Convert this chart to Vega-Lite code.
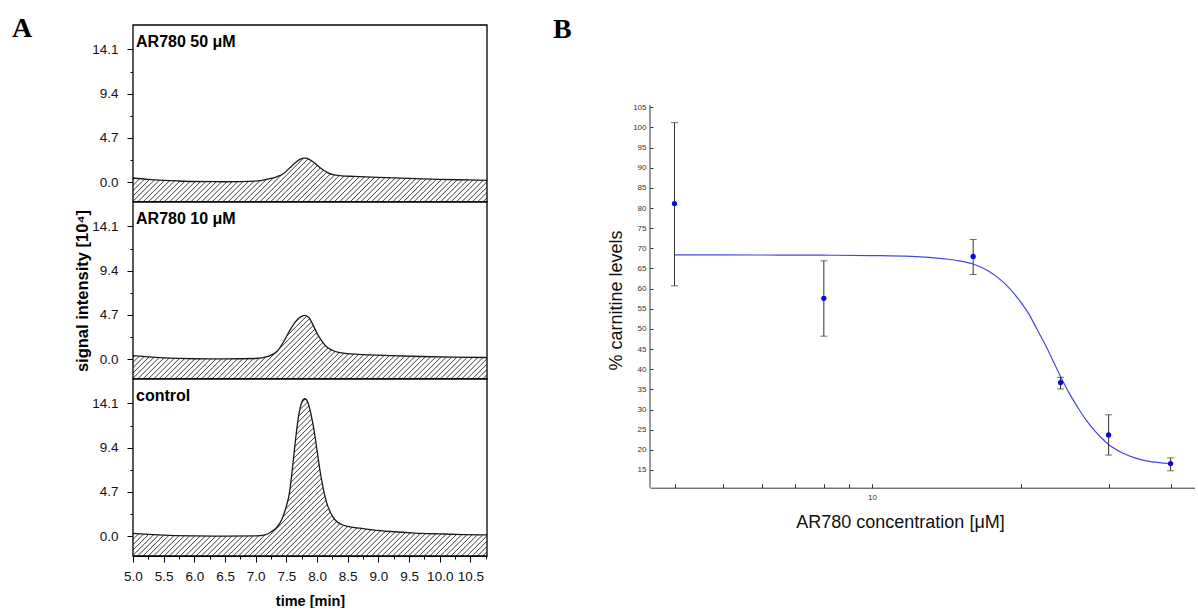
{
"$schema":"https://vega.github.io/schema/vega-lite/v6.json",
"padding":{"left":12,"top":14,"right":0,"bottom":0},
"background":"white",
"config":{"view":{"stroke":null},"axis":{"grid":false,"labelOverlap":false},"font":"Liberation Sans"},
"datasets":{
"chrom":[
{"p":1,"label":"AR780 50 μM"},{"p":2,"label":"AR780 10 μM"},{"p":3,"label":"control"},
{"p":1,"t":5.0,"v":0.45},{"p":1,"t":5.25,"v":0.3},{"p":1,"t":5.5,"v":0.2},{"p":1,"t":5.75,"v":0.13},{"p":1,"t":6.0,"v":0.08},{"p":1,"t":6.5,"v":0.05},{"p":1,"t":7.0,"v":0.12},{"p":1,"t":7.2,"v":0.33},{"p":1,"t":7.35,"v":0.6},{"p":1,"t":7.45,"v":0.9},{"p":1,"t":7.55,"v":1.5},{"p":1,"t":7.65,"v":2.1},{"p":1,"t":7.72,"v":2.42},{"p":1,"t":7.8,"v":2.55},{"p":1,"t":7.88,"v":2.4},{"p":1,"t":7.95,"v":2.1},{"p":1,"t":8.02,"v":1.7},{"p":1,"t":8.1,"v":1.3},{"p":1,"t":8.18,"v":1.0},{"p":1,"t":8.26,"v":0.8},{"p":1,"t":8.4,"v":0.68},{"p":1,"t":8.6,"v":0.62},{"p":1,"t":9.0,"v":0.52},{"p":1,"t":9.5,"v":0.4},{"p":1,"t":10.0,"v":0.3},{"p":1,"t":10.5,"v":0.24},{"p":1,"t":10.77,"v":0.2},
{"p":2,"t":5.0,"v":0.38},{"p":2,"t":5.25,"v":0.25},{"p":2,"t":5.5,"v":0.15},{"p":2,"t":6.0,"v":0.05},{"p":2,"t":6.5,"v":0.03},{"p":2,"t":7.0,"v":0.08},{"p":2,"t":7.2,"v":0.3},{"p":2,"t":7.35,"v":0.85},{"p":2,"t":7.45,"v":1.8},{"p":2,"t":7.55,"v":3.0},{"p":2,"t":7.65,"v":4.0},{"p":2,"t":7.72,"v":4.45},{"p":2,"t":7.8,"v":4.65},{"p":2,"t":7.87,"v":4.4},{"p":2,"t":7.93,"v":3.7},{"p":2,"t":8.0,"v":2.75},{"p":2,"t":8.07,"v":2.0},{"p":2,"t":8.15,"v":1.35},{"p":2,"t":8.25,"v":0.95},{"p":2,"t":8.35,"v":0.72},{"p":2,"t":8.5,"v":0.6},{"p":2,"t":8.85,"v":0.47},{"p":2,"t":9.2,"v":0.38},{"p":2,"t":9.7,"v":0.29},{"p":2,"t":10.2,"v":0.22},{"p":2,"t":10.77,"v":0.18},
{"p":3,"t":5.0,"v":0.3},{"p":3,"t":5.25,"v":0.2},{"p":3,"t":5.5,"v":0.12},{"p":3,"t":6.0,"v":0.04},{"p":3,"t":6.5,"v":0.01},{"p":3,"t":7.0,"v":0.03},{"p":3,"t":7.15,"v":0.15},{"p":3,"t":7.25,"v":0.45},{"p":3,"t":7.35,"v":1.0},{"p":3,"t":7.42,"v":1.7},{"p":3,"t":7.5,"v":3.2},{"p":3,"t":7.55,"v":4.6},{"p":3,"t":7.6,"v":7.3},{"p":3,"t":7.65,"v":10.3},{"p":3,"t":7.7,"v":12.8},{"p":3,"t":7.75,"v":14.2},{"p":3,"t":7.8,"v":14.6},{"p":3,"t":7.85,"v":14.2},{"p":3,"t":7.9,"v":13.0},{"p":3,"t":7.95,"v":11.3},{"p":3,"t":8.0,"v":9.1},{"p":3,"t":8.05,"v":6.9},{"p":3,"t":8.1,"v":5.1},{"p":3,"t":8.15,"v":3.7},{"p":3,"t":8.22,"v":2.5},{"p":3,"t":8.3,"v":1.7},{"p":3,"t":8.4,"v":1.25},{"p":3,"t":8.5,"v":1.05},{"p":3,"t":8.7,"v":0.85},{"p":3,"t":8.9,"v":0.68},{"p":3,"t":9.2,"v":0.5},{"p":3,"t":9.6,"v":0.34},{"p":3,"t":10.0,"v":0.25},{"p":3,"t":10.4,"v":0.18},{"p":3,"t":10.77,"v":0.14}
],
"points":[
{"c":4,"m":81.1,"lo":60.7,"hi":101.2},{"c":8,"m":57.6,"lo":48.2,"hi":66.9},{"c":16,"m":68.0,"lo":63.5,"hi":72.2},{"c":24,"m":36.7,"lo":35.1,"hi":38.0},{"c":30,"m":23.7,"lo":18.7,"hi":28.7},{"c":40,"m":16.6,"lo":14.8,"hi":18.0}
],
"fit":[
{"c":4,"f":68.4},{"c":6,"f":68.35},{"c":8,"f":68.3},{"c":10,"f":68.2},{"c":12,"f":68.0},{"c":14,"f":67.4},{"c":15,"f":66.9},{"c":16,"f":66.1},{"c":17.2,"f":64.3},{"c":18,"f":62.6},{"c":18.9,"f":60.2},{"c":19.8,"f":57.2},{"c":20.7,"f":53.8},{"c":21.5,"f":50.0},{"c":22.4,"f":45.9},{"c":23.2,"f":42.0},{"c":24,"f":38.2},{"c":25,"f":34.0},{"c":26.1,"f":30.2},{"c":27.1,"f":27.2},{"c":28.2,"f":24.6},{"c":29,"f":23.0},{"c":30,"f":21.3},{"c":32,"f":19.2},{"c":33.9,"f":18.0},{"c":36,"f":17.2},{"c":40,"f":16.6}
],
"yaxis":[{"lo":10.6,"hi":105.6}]
},
"spacing":63,
"hconcat":[
{
"data":{"name":"chrom"},
"title":{"text":"A","anchor":"start","frame":"group","dx":-121,"dy":40.5,"offset":0,"baseline":"alphabetic","font":"Liberation Serif","fontSize":28,"fontWeight":"bold","color":"#000"},
"bounds":"flush",
"spacing":0,
"facet":{"row":{"field":"p","type":"ordinal","header":{"labels":false,"title":"signal intensity [10⁴]","titleFont":"Liberation Sans","titleFontSize":16.5,"titleFontWeight":"bold","titleColor":"#000","titlePadding":-10}}},
"spec":{
"width":354,"height":177,
"layer":[
{"transform":[{"filter":"isValid(datum.label)"}],
"mark":{"type":"rect","fill":{"gradient":"linear","x1":0,"y1":0,"x2":1.2,"y2":0.6,"stops":[
{"offset":0,"color":"#fff"},{"offset":0.002,"color":"#444"},{"offset":0.004,"color":"#fff"},
{"offset":0.01,"color":"#fff"},{"offset":0.012,"color":"#444"},{"offset":0.014,"color":"#fff"},
{"offset":0.02,"color":"#fff"},{"offset":0.022,"color":"#444"},{"offset":0.024,"color":"#fff"},
{"offset":0.03,"color":"#fff"},{"offset":0.032,"color":"#444"},{"offset":0.034,"color":"#fff"},
{"offset":0.04,"color":"#fff"},{"offset":0.042,"color":"#444"},{"offset":0.044,"color":"#fff"},
{"offset":0.05,"color":"#fff"},{"offset":0.052,"color":"#444"},{"offset":0.054,"color":"#fff"},
{"offset":0.06,"color":"#fff"},{"offset":0.062,"color":"#444"},{"offset":0.064,"color":"#fff"},
{"offset":0.07,"color":"#fff"},{"offset":0.072,"color":"#444"},{"offset":0.074,"color":"#fff"},
{"offset":0.08,"color":"#fff"},{"offset":0.082,"color":"#444"},{"offset":0.084,"color":"#fff"},
{"offset":0.09,"color":"#fff"},{"offset":0.092,"color":"#444"},{"offset":0.094,"color":"#fff"},
{"offset":0.1,"color":"#fff"},{"offset":0.102,"color":"#444"},{"offset":0.104,"color":"#fff"},
{"offset":0.11,"color":"#fff"},{"offset":0.112,"color":"#444"},{"offset":0.114,"color":"#fff"},
{"offset":0.12,"color":"#fff"},{"offset":0.122,"color":"#444"},{"offset":0.124,"color":"#fff"},
{"offset":0.13,"color":"#fff"},{"offset":0.132,"color":"#444"},{"offset":0.134,"color":"#fff"},
{"offset":0.14,"color":"#fff"},{"offset":0.142,"color":"#444"},{"offset":0.144,"color":"#fff"},
{"offset":0.15,"color":"#fff"},{"offset":0.152,"color":"#444"},{"offset":0.154,"color":"#fff"},
{"offset":0.16,"color":"#fff"},{"offset":0.162,"color":"#444"},{"offset":0.164,"color":"#fff"},
{"offset":0.17,"color":"#fff"},{"offset":0.172,"color":"#444"},{"offset":0.174,"color":"#fff"},
{"offset":0.18,"color":"#fff"},{"offset":0.182,"color":"#444"},{"offset":0.184,"color":"#fff"},
{"offset":0.19,"color":"#fff"},{"offset":0.192,"color":"#444"},{"offset":0.194,"color":"#fff"},
{"offset":0.2,"color":"#fff"},{"offset":0.202,"color":"#444"},{"offset":0.204,"color":"#fff"},
{"offset":0.21,"color":"#fff"},{"offset":0.212,"color":"#444"},{"offset":0.214,"color":"#fff"},
{"offset":0.22,"color":"#fff"},{"offset":0.222,"color":"#444"},{"offset":0.224,"color":"#fff"},
{"offset":0.23,"color":"#fff"},{"offset":0.232,"color":"#444"},{"offset":0.234,"color":"#fff"},
{"offset":0.24,"color":"#fff"},{"offset":0.242,"color":"#444"},{"offset":0.244,"color":"#fff"},
{"offset":0.25,"color":"#fff"},{"offset":0.252,"color":"#444"},{"offset":0.254,"color":"#fff"},
{"offset":0.26,"color":"#fff"},{"offset":0.262,"color":"#444"},{"offset":0.264,"color":"#fff"},
{"offset":0.27,"color":"#fff"},{"offset":0.272,"color":"#444"},{"offset":0.274,"color":"#fff"},
{"offset":0.28,"color":"#fff"},{"offset":0.282,"color":"#444"},{"offset":0.284,"color":"#fff"},
{"offset":0.29,"color":"#fff"},{"offset":0.292,"color":"#444"},{"offset":0.294,"color":"#fff"},
{"offset":0.3,"color":"#fff"},{"offset":0.302,"color":"#444"},{"offset":0.304,"color":"#fff"},
{"offset":0.31,"color":"#fff"},{"offset":0.312,"color":"#444"},{"offset":0.314,"color":"#fff"},
{"offset":0.32,"color":"#fff"},{"offset":0.322,"color":"#444"},{"offset":0.324,"color":"#fff"},
{"offset":0.33,"color":"#fff"},{"offset":0.332,"color":"#444"},{"offset":0.334,"color":"#fff"},
{"offset":0.34,"color":"#fff"},{"offset":0.342,"color":"#444"},{"offset":0.344,"color":"#fff"},
{"offset":0.35,"color":"#fff"},{"offset":0.352,"color":"#444"},{"offset":0.354,"color":"#fff"},
{"offset":0.36,"color":"#fff"},{"offset":0.362,"color":"#444"},{"offset":0.364,"color":"#fff"},
{"offset":0.37,"color":"#fff"},{"offset":0.372,"color":"#444"},{"offset":0.374,"color":"#fff"},
{"offset":0.38,"color":"#fff"},{"offset":0.382,"color":"#444"},{"offset":0.384,"color":"#fff"},
{"offset":0.39,"color":"#fff"},{"offset":0.392,"color":"#444"},{"offset":0.394,"color":"#fff"},
{"offset":0.4,"color":"#fff"},{"offset":0.402,"color":"#444"},{"offset":0.404,"color":"#fff"},
{"offset":0.41,"color":"#fff"},{"offset":0.412,"color":"#444"},{"offset":0.414,"color":"#fff"},
{"offset":0.42,"color":"#fff"},{"offset":0.422,"color":"#444"},{"offset":0.424,"color":"#fff"},
{"offset":0.43,"color":"#fff"},{"offset":0.432,"color":"#444"},{"offset":0.434,"color":"#fff"},
{"offset":0.44,"color":"#fff"},{"offset":0.442,"color":"#444"},{"offset":0.444,"color":"#fff"},
{"offset":0.45,"color":"#fff"},{"offset":0.452,"color":"#444"},{"offset":0.454,"color":"#fff"},
{"offset":0.46,"color":"#fff"},{"offset":0.462,"color":"#444"},{"offset":0.464,"color":"#fff"},
{"offset":0.47,"color":"#fff"},{"offset":0.472,"color":"#444"},{"offset":0.474,"color":"#fff"},
{"offset":0.48,"color":"#fff"},{"offset":0.482,"color":"#444"},{"offset":0.484,"color":"#fff"},
{"offset":0.49,"color":"#fff"},{"offset":0.492,"color":"#444"},{"offset":0.494,"color":"#fff"},
{"offset":0.5,"color":"#fff"},{"offset":0.502,"color":"#444"},{"offset":0.504,"color":"#fff"},
{"offset":0.51,"color":"#fff"},{"offset":0.512,"color":"#444"},{"offset":0.514,"color":"#fff"},
{"offset":0.52,"color":"#fff"},{"offset":0.522,"color":"#444"},{"offset":0.524,"color":"#fff"},
{"offset":0.53,"color":"#fff"},{"offset":0.532,"color":"#444"},{"offset":0.534,"color":"#fff"},
{"offset":0.54,"color":"#fff"},{"offset":0.542,"color":"#444"},{"offset":0.544,"color":"#fff"},
{"offset":0.55,"color":"#fff"},{"offset":0.552,"color":"#444"},{"offset":0.554,"color":"#fff"},
{"offset":0.56,"color":"#fff"},{"offset":0.562,"color":"#444"},{"offset":0.564,"color":"#fff"},
{"offset":0.57,"color":"#fff"},{"offset":0.572,"color":"#444"},{"offset":0.574,"color":"#fff"},
{"offset":0.58,"color":"#fff"},{"offset":0.582,"color":"#444"},{"offset":0.584,"color":"#fff"},
{"offset":0.59,"color":"#fff"},{"offset":0.592,"color":"#444"},{"offset":0.594,"color":"#fff"},
{"offset":0.6,"color":"#fff"},{"offset":0.602,"color":"#444"},{"offset":0.604,"color":"#fff"},
{"offset":0.61,"color":"#fff"},{"offset":0.612,"color":"#444"},{"offset":0.614,"color":"#fff"},
{"offset":0.62,"color":"#fff"},{"offset":0.622,"color":"#444"},{"offset":0.624,"color":"#fff"},
{"offset":0.63,"color":"#fff"},{"offset":0.632,"color":"#444"},{"offset":0.634,"color":"#fff"},
{"offset":0.64,"color":"#fff"},{"offset":0.642,"color":"#444"},{"offset":0.644,"color":"#fff"},
{"offset":0.65,"color":"#fff"},{"offset":0.652,"color":"#444"},{"offset":0.654,"color":"#fff"},
{"offset":0.66,"color":"#fff"},{"offset":0.662,"color":"#444"},{"offset":0.664,"color":"#fff"},
{"offset":0.67,"color":"#fff"},{"offset":0.672,"color":"#444"},{"offset":0.674,"color":"#fff"},
{"offset":0.68,"color":"#fff"},{"offset":0.682,"color":"#444"},{"offset":0.684,"color":"#fff"},
{"offset":0.69,"color":"#fff"},{"offset":0.692,"color":"#444"},{"offset":0.694,"color":"#fff"},
{"offset":0.7,"color":"#fff"},{"offset":0.702,"color":"#444"},{"offset":0.704,"color":"#fff"},
{"offset":0.71,"color":"#fff"},{"offset":0.712,"color":"#444"},{"offset":0.714,"color":"#fff"},
{"offset":0.72,"color":"#fff"},{"offset":0.722,"color":"#444"},{"offset":0.724,"color":"#fff"},
{"offset":0.73,"color":"#fff"},{"offset":0.732,"color":"#444"},{"offset":0.734,"color":"#fff"},
{"offset":0.74,"color":"#fff"},{"offset":0.742,"color":"#444"},{"offset":0.744,"color":"#fff"},
{"offset":0.75,"color":"#fff"},{"offset":0.752,"color":"#444"},{"offset":0.754,"color":"#fff"},
{"offset":0.76,"color":"#fff"},{"offset":0.762,"color":"#444"},{"offset":0.764,"color":"#fff"},
{"offset":0.77,"color":"#fff"},{"offset":0.772,"color":"#444"},{"offset":0.774,"color":"#fff"},
{"offset":0.78,"color":"#fff"},{"offset":0.782,"color":"#444"},{"offset":0.784,"color":"#fff"},
{"offset":0.79,"color":"#fff"},{"offset":0.792,"color":"#444"},{"offset":0.794,"color":"#fff"},
{"offset":0.8,"color":"#fff"},{"offset":0.802,"color":"#444"},{"offset":0.804,"color":"#fff"},
{"offset":0.81,"color":"#fff"},{"offset":0.812,"color":"#444"},{"offset":0.814,"color":"#fff"},
{"offset":0.82,"color":"#fff"},{"offset":0.822,"color":"#444"},{"offset":0.824,"color":"#fff"},
{"offset":0.83,"color":"#fff"},{"offset":0.832,"color":"#444"},{"offset":0.834,"color":"#fff"},
{"offset":0.84,"color":"#fff"},{"offset":0.842,"color":"#444"},{"offset":0.844,"color":"#fff"},
{"offset":0.85,"color":"#fff"},{"offset":0.852,"color":"#444"},{"offset":0.854,"color":"#fff"},
{"offset":0.86,"color":"#fff"},{"offset":0.862,"color":"#444"},{"offset":0.864,"color":"#fff"},
{"offset":0.87,"color":"#fff"},{"offset":0.872,"color":"#444"},{"offset":0.874,"color":"#fff"},
{"offset":0.88,"color":"#fff"},{"offset":0.882,"color":"#444"},{"offset":0.884,"color":"#fff"},
{"offset":0.89,"color":"#fff"},{"offset":0.892,"color":"#444"},{"offset":0.894,"color":"#fff"},
{"offset":0.9,"color":"#fff"},{"offset":0.902,"color":"#444"},{"offset":0.904,"color":"#fff"},
{"offset":0.91,"color":"#fff"},{"offset":0.912,"color":"#444"},{"offset":0.914,"color":"#fff"},
{"offset":0.92,"color":"#fff"},{"offset":0.922,"color":"#444"},{"offset":0.924,"color":"#fff"},
{"offset":0.93,"color":"#fff"},{"offset":0.932,"color":"#444"},{"offset":0.934,"color":"#fff"},
{"offset":0.94,"color":"#fff"},{"offset":0.942,"color":"#444"},{"offset":0.944,"color":"#fff"},
{"offset":0.95,"color":"#fff"},{"offset":0.952,"color":"#444"},{"offset":0.954,"color":"#fff"},
{"offset":0.96,"color":"#fff"},{"offset":0.962,"color":"#444"},{"offset":0.964,"color":"#fff"},
{"offset":0.97,"color":"#fff"},{"offset":0.972,"color":"#444"},{"offset":0.974,"color":"#fff"},
{"offset":0.98,"color":"#fff"},{"offset":0.982,"color":"#444"},{"offset":0.984,"color":"#fff"},
{"offset":0.99,"color":"#fff"},{"offset":0.992,"color":"#444"},{"offset":0.994,"color":"#fff"},
{"offset":1,"color":"#fff"}
]}},
"encoding":{
"x":{"datum":5,"type":"quantitative","title":"time [min]","scale":{"domain":[5,10.77],"nice":false,"zero":false},
"axis":{"values":[5,5.25,5.5,5.75,6,6.25,6.5,6.75,7,7.25,7.5,7.75,8,8.25,8.5,8.75,9,9.25,9.5,9.75,10,10.25,10.5,10.75],"tickCount":100,
"labelExpr":"abs(datum.value*2-round(datum.value*2))<0.01 ? format(datum.value,'.1f') : ''",
"tickSize":{"condition":{"test":"abs(datum.value*2-round(datum.value*2))<0.01","value":6},"value":3},
"labelPadding":7,"labelFont":"Liberation Sans","labelFontSize":13.5,"labelColor":"#111","labelFlush":false,"labelOverlap":false,
"tickColor":"#000","domainColor":"#000","tickWidth":1,
"titleFont":"Liberation Sans","titleFontSize":14.5,"titleFontWeight":"bold","titleColor":"#000","titlePadding":12}},
"x2":{"datum":10.77},
"y":{"datum":-2.1,"type":"quantitative","title":null,"scale":{"domain":[-2.1,16.7],"nice":false,"zero":false},
"axis":{"values":[0,2.35,4.7,7.05,9.4,11.75,14.1],"tickCount":100,
"labelExpr":"indexof([0,4.7,9.4,14.1],datum.value)>=0 ? format(datum.value,'.1f') : ''",
"tickSize":{"condition":{"test":"indexof([0,4.7,9.4,14.1],datum.value)>=0","value":6},"value":3},
"labelPadding":9,"labelFont":"Liberation Sans","labelFontSize":13.5,"labelColor":"#111","labelOverlap":false,
"tickColor":"#000","domainColor":"#000"}},
"y2":{"datum":16.7}}},
{"transform":[{"filter":"isValid(datum.t)"}],
"mark":{"type":"area","interpolate":"monotone","fill":"#fff","opacity":1},
"encoding":{"x":{"field":"t","type":"quantitative","title":"time [min]"},"y":{"field":"v","type":"quantitative","title":null},"y2":{"datum":16.7}}},
{"transform":[{"filter":"isValid(datum.t)"}],
"mark":{"type":"line","interpolate":"monotone","color":"#1a1a1a","strokeWidth":1.3},
"encoding":{"x":{"field":"t","type":"quantitative","title":"time [min]"},"y":{"field":"v","type":"quantitative","title":null}}},
{"transform":[{"filter":"isValid(datum.label)"}],
"mark":{"type":"rect","filled":false,"stroke":"#000","strokeWidth":1.3},
"encoding":{"x":{"datum":5,"type":"quantitative","title":"time [min]"},"x2":{"datum":10.77},"y":{"datum":-2.1,"type":"quantitative","title":null},"y2":{"datum":16.7}}},
{"transform":[{"filter":"isValid(datum.label)"}],
"mark":{"type":"text","align":"left","baseline":"alphabetic","font":"Liberation Sans","fontSize":16,"fontWeight":"bold","color":"#000"},
"encoding":{"x":{"datum":5.05,"type":"quantitative","title":"time [min]"},"y":{"datum":14.35,"type":"quantitative","title":null},"text":{"field":"label"}}}
]
}
},
{
"width":545,"height":462.7,
"title":{"text":"B","anchor":"start","frame":"group","dx":-97,"dy":40.5,"offset":0,"baseline":"alphabetic","font":"Liberation Serif","fontSize":28,"fontWeight":"bold","color":"#000"},
"layer":[
{"data":{"name":"fit"},
"mark":{"type":"line","interpolate":"monotone","color":"#4646de","strokeWidth":1.2},
"encoding":{
"x":{"field":"c","type":"quantitative","title":"AR780 concentration [μM]","scale":{"type":"log","domain":[3.57,44.8],"nice":false},
"axis":{"values":[4,5,6,7,8,9,10,20,30,40],"tickCount":100,"labelExpr":"datum.value==10 ? '10' : ''","labelFont":"Liberation Sans","labelFontSize":8,"labelColor":"#333","labelOverlap":false,"labelFlush":false,
"tickSize":-4,"labelPadding":10,"tickColor":"#333","domainColor":"#333",
"titleFont":"Liberation Sans","titleFontSize":18,"titleFontWeight":"normal","titleColor":"#111","titlePadding":12,"titleX":250}},
"y":{"field":"f","type":"quantitative","title":"% carnitine levels","scale":{"domain":[10.6,125.42],"nice":false,"zero":false},
"axis":{"values":[15,20,25,30,35,40,45,50,55,60,65,70,75,80,85,90,95,100,105],"tickCount":100,"labelFont":"Liberation Sans","labelFontSize":8,"labelColor":"#333","labelOverlap":false,
"domain":false,"tickSize":-3,"labelPadding":7,"tickColor":"#333",
"titleFont":"Liberation Sans","titleFontSize":18,"titleFontWeight":"normal","titleColor":"#111","titlePadding":7,"titleY":275}}}},
{"data":{"name":"yaxis"},
"mark":{"type":"rule","color":"#333","strokeWidth":1},
"encoding":{"x":{"datum":3.57,"type":"quantitative","title":"AR780 concentration [μM]"},"y":{"field":"lo","type":"quantitative","title":"% carnitine levels"},"y2":{"field":"hi"}}},
{"data":{"name":"points"},
"mark":{"type":"errorbar","color":"#333","ticks":{"size":7,"color":"#333"},"rule":{"strokeWidth":1}},
"encoding":{"x":{"field":"c","type":"quantitative","title":"AR780 concentration [μM]"},"y":{"field":"lo","type":"quantitative","title":"% carnitine levels"},"y2":{"field":"hi"}}},
{"data":{"name":"points"},
"mark":{"type":"point","filled":true,"size":28,"color":"#0a0ad8","opacity":1},
"encoding":{"x":{"field":"c","type":"quantitative","title":"AR780 concentration [μM]"},"y":{"field":"m","type":"quantitative","title":"% carnitine levels"}}}
]
}
]
}
